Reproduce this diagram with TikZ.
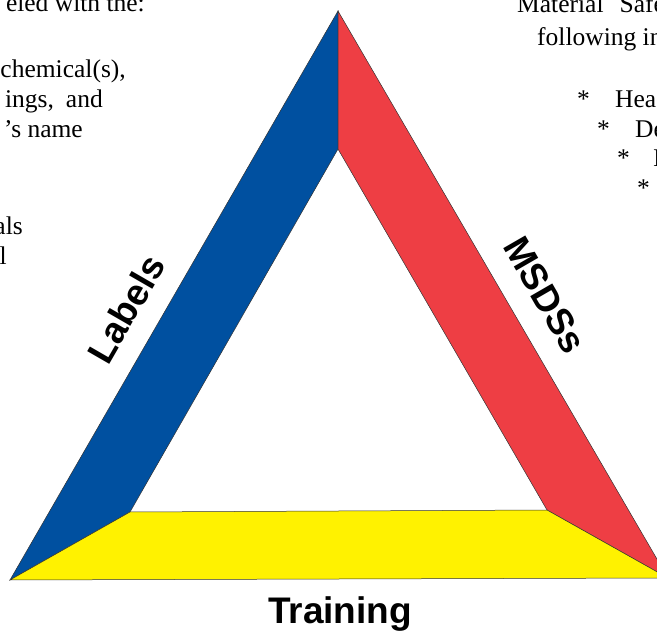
\documentclass[tikz,border=0pt]{standalone}
\usepackage{fontspec}
\setmainfont{Liberation Serif}
\setsansfont{Liberation Sans}
\definecolor{bandblue}{RGB}{0,80,160}
\definecolor{bandred}{RGB}{238,62,68}
\definecolor{bandyellow}{RGB}{255,242,0}

\begin{document}
\begin{tikzpicture}[x=1pt,y=-1pt,
    band/.style={draw=black!80, line width=0.5pt, line join=miter},
    side/.style={font=\sffamily\bfseries\fontsize{37}{40}\selectfont, inner sep=0pt},
    page/.style={font=\fontsize{25.5}{30}\selectfont, inner sep=0pt}]

      \useasboundingbox (0,0) rectangle (657,631);
      \clip (0,0) rectangle (657,631);

      % corners of the outer and inner triangle
      \coordinate (top) at (338,11);
      \coordinate (bl) at (10,580);
      \coordinate (br) at (668,578);
      \coordinate (itop) at (338,149);
      \coordinate (ibl) at (130,512);
      \coordinate (ibr) at (547,510);

      \filldraw[band, fill=bandblue] (top) -- (bl) -- (ibl) -- (itop) -- cycle;
      \filldraw[band, fill=bandred] (top) -- (itop) -- (ibr) -- (br) -- cycle;
      \filldraw[band, fill=bandyellow] (bl) -- (br) -- (ibr) -- (ibl) -- cycle;

      \node[side, rotate=60] (labels) at (126,309) {Labels};
      \node[side, rotate=-60] (msdss) at (545,295) {MSDSs};
      \node[side, anchor=base] (training) at (340,623) {Training};

      % page text cut off by the picture
      \node[page, anchor=base east] (left1) at (145,12) {eled with the:};
      \node[page, anchor=base east] (left2) at (126,78) {chemical(s),};
      \node[page, anchor=base east] (left3) at (103,108) {ings,\hspace{12pt}and};
      \node[page, anchor=base east] (left4) at (83,138) {’s name};
      \node[page, anchor=base east] (left5) at (23,235) {als};
      \node[page, anchor=base east] (left6) at (7,265) {l};

      \node[page, anchor=base west] (right1) at (517,13) {Material\hspace{16pt}Safety};
      \node[page, anchor=base west] (right2) at (537,46) {following in};
      \node[page, anchor=base west] (star1) at (577,108) {*};
      \node[page, anchor=base west] (item1) at (615,108) {Hea};
      \node[page, anchor=base west] (star2) at (597,138) {*};
      \node[page, anchor=base west] (item2) at (635,138) {De};
      \node[page, anchor=base west] (star3) at (617,167) {*};
      \node[page, anchor=base west] (item3) at (653,167) {I};
      \node[page, anchor=base west] (star4) at (637,197) {*};

    \end{tikzpicture}
\end{document}
